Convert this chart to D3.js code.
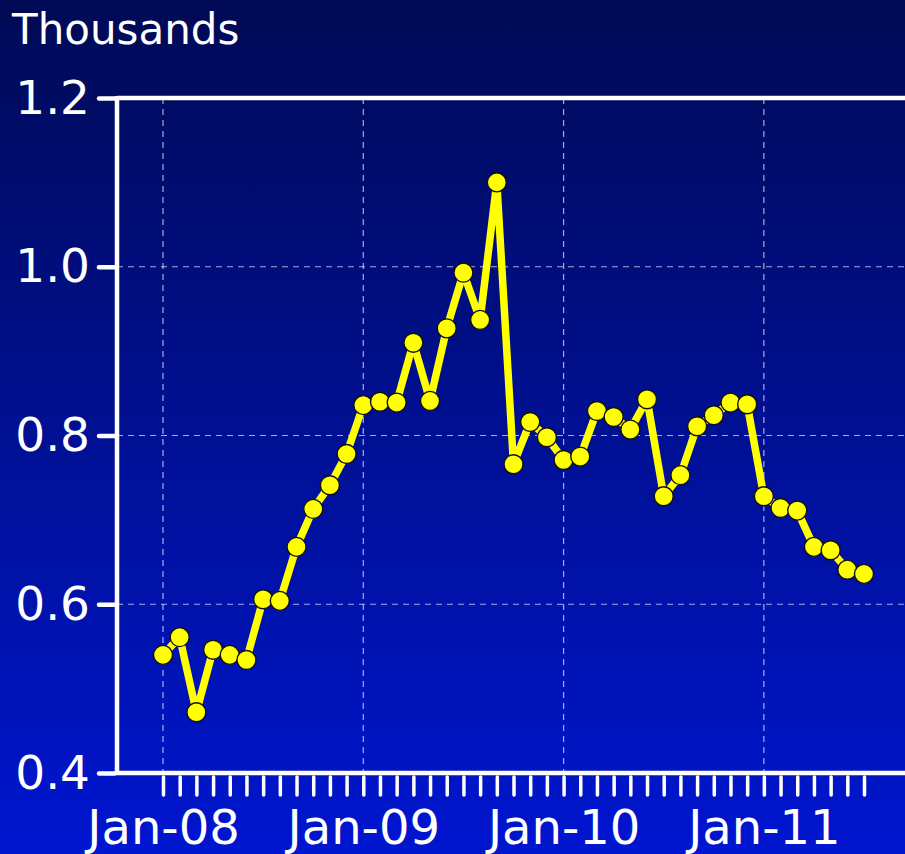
<!DOCTYPE html>
<html>
<head>
<meta charset="utf-8">
<script src="https://cdn.jsdelivr.net/npm/d3@7"></script>
<style>
  body { margin: 0; background: #000a5a; }
  svg { display: block; font-family: "DejaVu Sans", Verdana, sans-serif; }
</style>
</head>
<body>
<script>
var width = 905, height = 854;

// monthly values, Jan-08 .. Jul-11 (thousands)
const values = [
  0.540, 0.561, 0.472, 0.546, 0.540, 0.534, 0.606, 0.604, 0.668, 0.713, 0.741, 0.778,
  0.836, 0.840, 0.839, 0.910, 0.841, 0.927, 0.993, 0.937, 1.100, 0.766, 0.816, 0.798,
  0.771, 0.775, 0.829, 0.822, 0.807, 0.843, 0.728, 0.753, 0.811, 0.824, 0.839, 0.837,
  0.728, 0.714, 0.711, 0.668, 0.664, 0.641, 0.636
];
const months = d3.timeMonth.range(new Date(2008, 0, 1), new Date(2011, 7, 1));
const yTicks = [0.4, 0.6, 0.8, 1.0, 1.2];
const yearStarts = [0, 12, 24, 36]; // Jan-08, Jan-09, Jan-10, Jan-11
const unitLabel = "Thousands";

const plotLeft = 117, plotTop = 98, plotBottom = 773;

const x = d3.scaleLinear().domain([0, 42]).range([163, 864]);
const y = d3.scaleLinear().domain([0.4, 1.2]).range([plotBottom, plotTop]);

var svg = d3.select("body").append("svg")
  .attr("width", width)
  .attr("height", height);

const grad = svg.append("defs").append("linearGradient")
  .attr("id", "bg").attr("x1", 0).attr("y1", 0).attr("x2", 0).attr("y2", 1);
grad.append("stop").attr("offset", "0%").attr("stop-color", "#000a55");
grad.append("stop").attr("offset", "100%").attr("stop-color", "#0016d0");

svg.append("rect").attr("width", width).attr("height", height).attr("fill", "url(#bg)");

// gridlines
const grid = svg.append("g")
  .attr("stroke", "rgba(220,225,255,0.75)")
  .attr("stroke-width", 1.2)
  .attr("stroke-dasharray", "6,5");
grid.selectAll("line.h")
  .data(yTicks.filter(d => d > 0.4 && d < 1.2))
  .join("line").attr("class", "h")
  .attr("x1", plotLeft).attr("x2", width)
  .attr("y1", d => y(d)).attr("y2", d => y(d));
grid.selectAll("line.v")
  .data(yearStarts)
  .join("line").attr("class", "v")
  .attr("x1", d => x(d)).attr("x2", d => x(d))
  .attr("y1", plotTop).attr("y2", plotBottom);

// frame lines at top and bottom
svg.append("g").selectAll("line")
  .data([1.2, 0.4])
  .join("line")
  .attr("x1", plotLeft).attr("x2", width + 10)
  .attr("y1", d => y(d)).attr("y2", d => y(d))
  .attr("stroke", "white").attr("stroke-width", 4.5);

// y axis
const yAxis = svg.append("g")
  .attr("transform", `translate(${plotLeft},0)`)
  .call(d3.axisLeft(y).tickValues(yTicks).tickFormat(d3.format(".1f")).tickSize(18).tickPadding(9));
yAxis.select(".domain").attr("stroke", "white").attr("stroke-width", 4.5)
  .attr("d", `M0,${plotTop - 2}V${plotBottom + 2}`);
yAxis.selectAll(".tick line").attr("stroke", "white").attr("stroke-width", 4.5)
  .attr("stroke-linecap", "round").attr("x1", -2);
yAxis.selectAll(".tick text").attr("fill", "white").attr("font-size", 47)
  .attr("font-family", "DejaVu Sans, Verdana, sans-serif");

// x axis
const fmt = d3.timeFormat("%b-%y");
const xAxis = svg.append("g")
  .attr("transform", `translate(0,${plotBottom})`)
  .call(d3.axisBottom(x).tickValues(d3.range(months.length)).tickSize(22)
    .tickFormat(i => yearStarts.includes(i) ? fmt(months[i]) : ""));
xAxis.select(".domain").remove();
xAxis.selectAll(".tick line").attr("stroke", "white").attr("stroke-width", 3.5)
  .attr("stroke-linecap", "round").attr("y1", 4);
xAxis.selectAll(".tick text").attr("fill", "white").attr("font-size", 48)
  .attr("font-family", "DejaVu Sans, Verdana, sans-serif")
  .attr("y", 0).attr("dy", null).attr("transform", "translate(0,71)");

// series
const line = d3.line().x((d, i) => x(i)).y(d => y(d));
svg.append("path").datum(values)
  .attr("d", line)
  .attr("fill", "none")
  .attr("stroke", "#ffff00")
  .attr("stroke-width", 7.5)
  .attr("stroke-linejoin", "round");
svg.append("g").selectAll("circle")
  .data(values)
  .join("circle")
  .attr("cx", (d, i) => x(i))
  .attr("cy", d => y(d))
  .attr("r", 9.5)
  .attr("fill", "#ffff00")
  .attr("stroke", "#111")
  .attr("stroke-width", 1.4);

svg.append("text")
  .attr("x", 12).attr("y", 44)
  .attr("fill", "white")
  .attr("font-size", 42)
  .text(unitLabel);
</script>
</body>
</html>
